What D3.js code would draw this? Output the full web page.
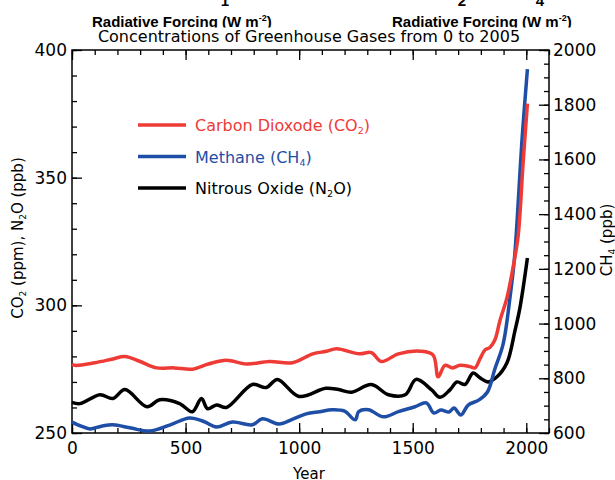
<!DOCTYPE html>
<html>
<head>
<meta charset="utf-8">
<script src="https://cdn.jsdelivr.net/npm/d3@7"></script>
<style>
	body { margin: 0; background: #fff; }
	svg { font-family: "DejaVu Sans", sans-serif; }
	.tick text { font-size: 17px; font-family: "DejaVu Sans", sans-serif; }
</style>
</head>
<body>
<svg id="chart" width="615" height="480"></svg>
<script>
// values
const CO2_YEARS = [0, 13, 100, 180, 233, 300, 373, 450, 530, 600, 680, 768, 870, 970, 1060, 1120, 1165, 1265, 1318, 1362, 1437, 1537, 1590, 1612, 1642, 1675, 1708, 1752, 1774, 1796, 1818, 1840, 1862, 1884, 1915, 1942, 1964, 1986, 2005];
const CO2_PPM = [277, 276.5, 277.5, 279, 280, 278, 275.5, 275.5, 275, 277, 278.5, 277, 278, 277.5, 281, 282, 283, 281, 281.5, 278, 281, 282, 280.5, 272, 276.5, 275.5, 276.5, 276, 275.5, 279, 282.5, 283.5, 286.5, 294, 303, 315, 327, 355.7, 379];

const CH4_YEARS = [0, 40, 79, 130, 180, 260, 342, 430, 518, 580, 636, 706, 794, 838, 912, 970, 1031, 1090, 1145, 1200, 1247, 1262, 1305, 1371, 1437, 1510, 1560, 1593, 1624, 1660, 1682, 1712, 1744, 1792, 1829, 1862, 1898, 1929, 1947, 1959, 1981, 2005];
const CH4_PPB = [640, 625, 615, 625, 630, 618, 607, 629, 655, 642, 622, 640, 630, 652, 633, 650, 670, 678, 685, 680, 648, 678, 685, 659, 678, 696, 710, 673, 684, 677, 691, 666, 702, 721, 750, 835, 925, 1100, 1230, 1368, 1671, 1930];

const N2O_YEARS = [0, 35, 123, 180, 233, 330, 386, 474, 530, 570, 597, 636, 680, 794, 855, 904, 1000, 1117, 1174, 1231, 1318, 1393, 1467, 1515, 1582, 1620, 1664, 1695, 1730, 1766, 1796, 1832, 1871, 1915, 1950, 1972, 2005];
const N2O_PPB = [262, 261.5, 265, 263.5, 267, 260.3, 263, 261.5, 258.3, 263.5, 259.5, 261, 260, 269, 267.8, 271, 264.3, 267.5, 267, 266, 269, 265, 265, 271, 267, 264, 266.9, 270, 269, 273.5, 271.6, 270, 272, 277.5, 290, 299, 318.5];

const X_TICKS = [0, 500, 1000, 1500, 2000];
const LEFT_TICKS = [250, 300, 350, 400];
const RIGHT_TICKS = [600, 800, 1000, 1200, 1400, 1600, 1800, 2000];

const RED = "#ee3b36";
const BLUE = "#1f4ea6";

const svg = d3.select("#chart");
const X0 = 72, X1 = 549, Y0 = 50, Y1 = 433;

const x = d3.scaleLinear().domain([0, 2100]).range([X0, X1]);
const yLeft = d3.scaleLinear().domain([250, 400]).range([Y1, Y0]);
const yRight = d3.scaleLinear().domain([600, 2000]).range([Y1, Y0]);

// frame
svg.append("rect")
	.attr("x", X0).attr("y", Y0)
	.attr("width", X1 - X0).attr("height", Y1 - Y0)
	.attr("fill", "none").attr("stroke", "#000").attr("stroke-width", 1.5);

// axes, ticks pointing inward
const fmt = d3.format("d");
const bottomAxis = svg.append("g").attr("transform", `translate(0,${Y1})`);
bottomAxis.call(d3.axisBottom(x).tickValues(X_TICKS).tickSize(-10).tickSizeOuter(0).tickPadding(9).tickFormat(fmt));
bottomAxis.append("g").call(d3.axisBottom(x).tickValues(d3.range(0, 2101, 100)).tickSize(-5).tickSizeOuter(0).tickFormat(""));
const topAxis = svg.append("g").attr("transform", `translate(0,${Y0})`);
topAxis.call(d3.axisTop(x).tickValues(X_TICKS).tickSize(-10).tickSizeOuter(0).tickFormat(""));
topAxis.append("g").call(d3.axisTop(x).tickValues(d3.range(0, 2101, 100)).tickSize(-5).tickSizeOuter(0).tickFormat(""));

const leftAxis = svg.append("g").attr("transform", `translate(${X0},0)`);
leftAxis.call(d3.axisLeft(yLeft).tickValues(LEFT_TICKS).tickSize(-10).tickSizeOuter(0).tickPadding(5).tickFormat(fmt));
leftAxis.append("g").call(d3.axisLeft(yLeft).tickValues(d3.range(250, 401, 10)).tickSize(-5).tickSizeOuter(0).tickFormat(""));

const rightAxis = svg.append("g").attr("transform", `translate(${X1},0)`);
rightAxis.call(d3.axisRight(yRight).tickValues(RIGHT_TICKS).tickSize(-10).tickSizeOuter(0).tickPadding(4).tickFormat(fmt));
rightAxis.append("g").call(d3.axisRight(yRight).tickValues(d3.range(600, 2001, 50)).tickSize(-5).tickSizeOuter(0).tickFormat(""));

svg.selectAll(".domain").remove();
svg.selectAll(".tick line").attr("stroke-width", 1.3);

// series
const line = (years, vals, yScale) => d3.line()
	.x((d, i) => x(years[i]))
	.y(d => yScale(d))
	.curve(d3.curveCatmullRom)(vals);

svg.append("path").attr("d", line(N2O_YEARS, N2O_PPB, yLeft))
	.attr("fill", "none").attr("stroke", "#000").attr("stroke-width", 3.5);
svg.append("path").attr("d", line(CH4_YEARS, CH4_PPB, yRight))
	.attr("fill", "none").attr("stroke", BLUE).attr("stroke-width", 3.5);
svg.append("path").attr("d", line(CO2_YEARS, CO2_PPM, yLeft))
	.attr("fill", "none").attr("stroke", RED).attr("stroke-width", 3.5);

// legend
const legend = [
	{ color: RED, parts: [["Carbon Dioxode (CO", 0], ["2", 1], [")", 0]] },
	{ color: BLUE, parts: [["Methane (CH", 0], ["4", 1], [")", 0]] },
	{ color: "#000", parts: [["Nitrous Oxide (N", 0], ["2", 1], ["O)", 0]] }
];
legend.forEach((l, i) => {
	const ly = 125 + i * 31.5;
	svg.append("line").attr("x1", 138).attr("x2", 186).attr("y1", ly).attr("y2", ly)
		.attr("stroke", l.color).attr("stroke-width", 3.5);
	const t = svg.append("text").attr("x", 195).attr("y", ly + 6)
		.attr("fill", l.color).attr("font-size", 16);
	l.parts.forEach((p, j) => {
		const s = t.append("tspan").text(p[0]);
		if (p[1]) s.attr("font-size", 9.5).attr("dy", 3);
		else if (j > 0) s.attr("dy", -3);
	});
});

// header texts
[[225, "1"], [462, "2"], [540, "4"]].forEach(d => {
	svg.append("text").attr("x", d[0]).attr("y", 6).attr("font-weight", "bold")
		.attr("font-family", "'Liberation Sans', sans-serif")
		.attr("font-size", 15).attr("text-anchor", "middle").text(d[1]);
});
[92, 392].forEach(tx => {
	const t = svg.append("text").attr("x", tx).attr("y", 26.5)
		.attr("font-family", "'Liberation Sans Narrow', 'Liberation Sans', sans-serif")
		.attr("font-weight", "bold").attr("font-size", 15);
	t.append("tspan").text("Radiative Forcing (W m");
	t.append("tspan").attr("font-size", 9).attr("dy", -6).text("-2");
	t.append("tspan").attr("dy", 6).text(")");
});
// white band clipping the descenders of the cut-off header
svg.append("rect").attr("x", 0).attr("y", 27.5).attr("width", 615).attr("height", 2.5).attr("fill", "#fff");

svg.append("text").attr("x", 309).attr("y", 42).attr("text-anchor", "middle")
	.attr("font-size", 16).text("Concentrations of Greenhouse Gases from 0 to 2005");

svg.append("text").attr("x", 309).attr("y", 479).attr("text-anchor", "middle")
	.attr("font-size", 15).text("Year");

const yl = svg.append("text").attr("transform", "translate(23,238) rotate(-90)")
	.attr("text-anchor", "middle").attr("font-size", 15);
yl.append("tspan").text("CO");
yl.append("tspan").attr("font-size", 9).attr("dy", 3).text("2");
yl.append("tspan").attr("dy", -3).text(" (ppm), N");
yl.append("tspan").attr("font-size", 9).attr("dy", 3).text("2");
yl.append("tspan").attr("dy", -3).text("O (ppb)");

const yr = svg.append("text").attr("transform", "translate(612,240) rotate(-90)")
	.attr("text-anchor", "middle").attr("font-size", 15);
yr.append("tspan").text("CH");
yr.append("tspan").attr("font-size", 9).attr("dy", 3).text("4");
yr.append("tspan").attr("dy", -3).text(" (ppb)");
</script>
</body>
</html>
